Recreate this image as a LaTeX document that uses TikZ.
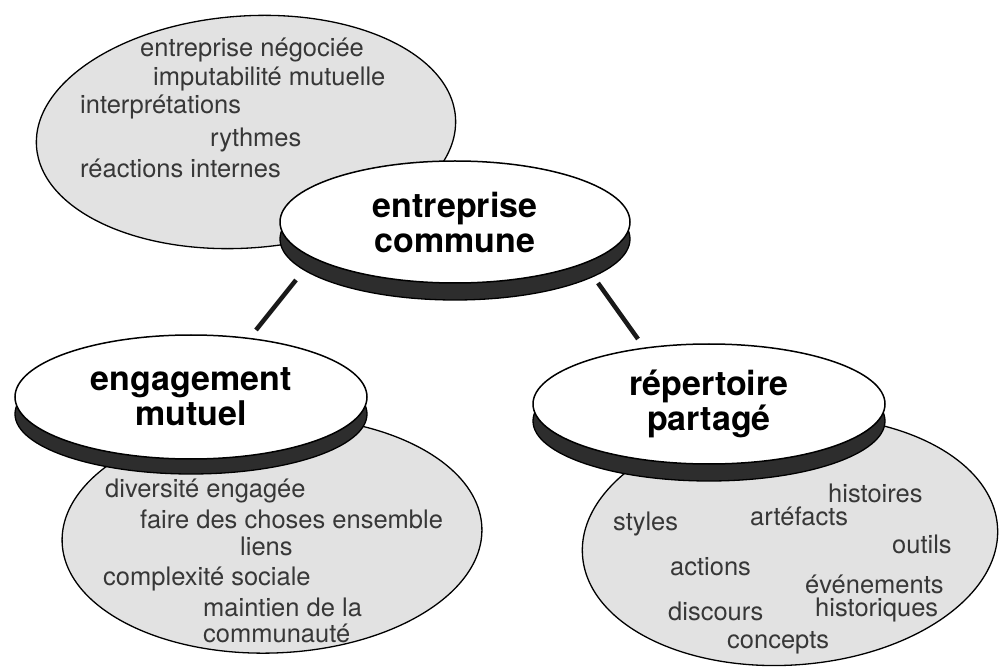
\documentclass[tikz,border=0pt]{standalone}
\usepackage{fontspec}
\setmainfont{TeX Gyre Heros}
\usetikzlibrary{shapes.geometric}
\definecolor{bub}{RGB}{226,226,226}
\definecolor{soft}{RGB}{55,55,55}
\definecolor{shade}{RGB}{45,45,45}
\tikzset{
  bubble/.style={fill=bub, draw=black, line width=1.3pt},
  item/.style={anchor=base west, inner sep=0pt, text=soft, font=\fontsize{25.5}{30}\selectfont},
  shadowdisk/.style={fill=shade, draw=black, line width=1.3pt},
  disk/.style={ellipse, draw=black, fill=white, line width=1.5pt, inner sep=0pt,
    minimum width=352pt, minimum height=124pt, align=center,
    font=\fontsize{34}{35}\selectfont\bfseries},
  link/.style={line width=4.5pt, draw=black!90}
}
\begin{document}
\begin{tikzpicture}[x=1pt,y=-1pt]
\useasboundingbox (0,0) rectangle (999,668);
\fill[white] (0,0) rectangle (999,668);

% ---- top gray bubble
\draw[bubble, rotate around={4:(246,132)}] (246,132) ellipse [x radius=210pt, y radius=116pt];
\node[item] (t1) at (140,57) {entreprise négociée};
\node[item] (t2) at (153,86) {imputabilité mutuelle};
\node[item] (t3) at (80,114) {interprétations};
\node[item] (t4) at (210,147) {rythmes};
\node[item] (t5) at (80,178) {réactions internes};

% ---- left gray bubble
\draw[bubble, rotate around={2:(272,535)}] (272,535) ellipse [x radius=210pt, y radius=118pt];
\node[item] (l1) at (105,497) {diversité engagée};
\node[item] (l2) at (140,528) {faire des choses ensemble};
\node[item] (l3) at (240,555) {liens};
\node[item] (l4) at (103,585) {complexité sociale};
\node[item] (l5) at (203,616) {maintien de la};
\node[item] (l6) at (203,642) {communauté};

% ---- right gray bubble
\draw[bubble, rotate around={4:(790,541)}] (790,541) ellipse [x radius=208pt, y radius=124pt];
\node[item] (r1) at (828,502) {histoires};
\node[item] (r2) at (613,530) {styles};
\node[item] (r3) at (750,525) {artéfacts};
\node[item] (r4) at (892,553) {outils};
\node[item] (r5) at (670,575) {actions};
\node[item] (r6) at (805,593) {événements};
\node[item] (r7) at (815,616) {historiques};
\node[item] (r8) at (668,620) {discours};
\node[item] (r9) at (727,648) {concepts};

% ---- center disk
\draw[shadowdisk] (455,239) ellipse [x radius=175pt, y radius=61pt];
\node[disk, minimum width=350pt, minimum height=122pt] (ec) at (455,222) {entreprise\\commune};

% ---- left disk
\draw[shadowdisk] (191,414) ellipse [x radius=176pt, y radius=60pt];
\node[disk] (em) at (191,397) {engagement\\mutuel};

% ---- right disk
\draw[shadowdisk] (709,421) ellipse [x radius=176pt, y radius=60pt];
\node[disk, minimum width=352pt, minimum height=120pt] (rp) at (709,404) {répertoire\\partagé};

% ---- connectors
\coordinate (a1) at (296,280);
\coordinate (a2) at (256,330);
\coordinate (b1) at (598,283);
\coordinate (b2) at (638,339);
\draw[link] (a1) -- (a2);
\draw[link] (b1) -- (b2);
\end{tikzpicture}
\end{document}
